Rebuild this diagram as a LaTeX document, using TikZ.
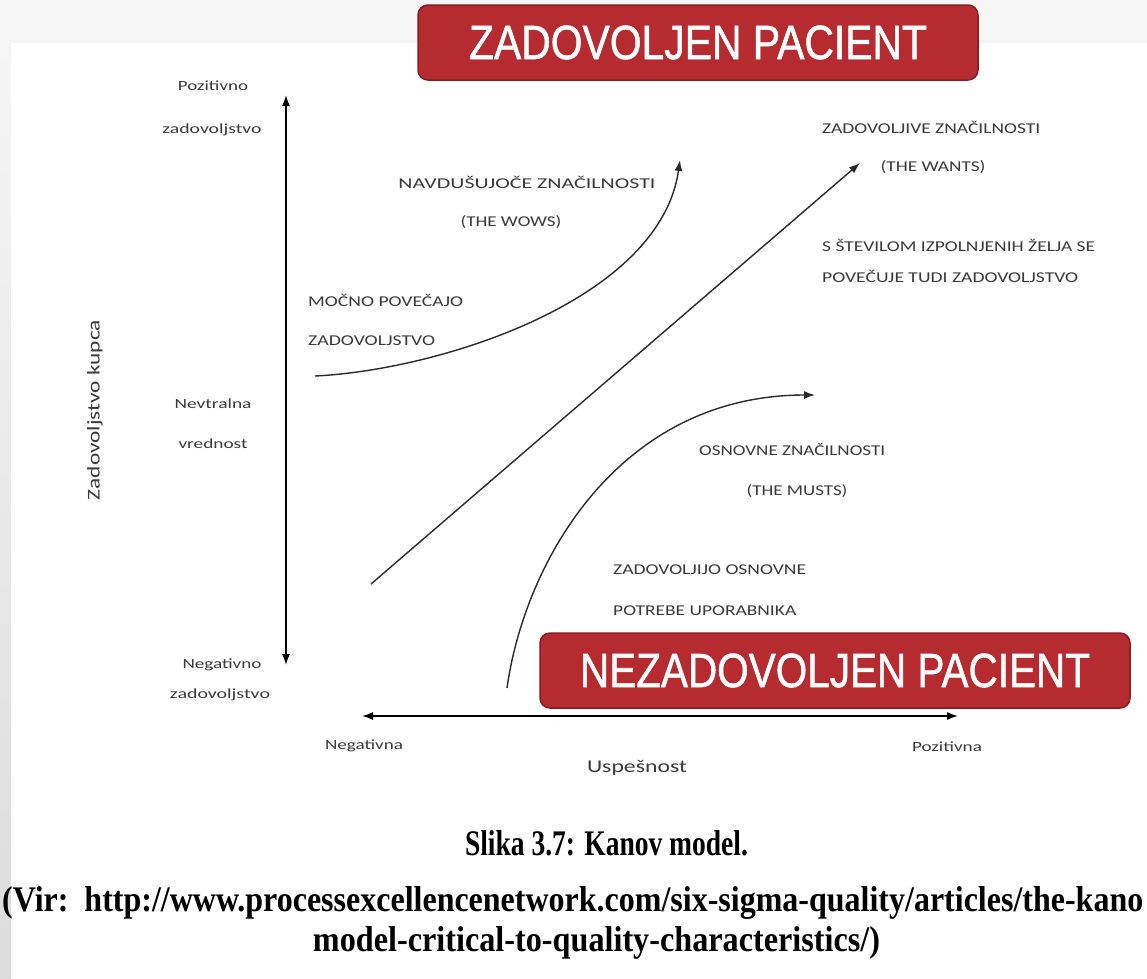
\documentclass[tikz,border=0pt]{standalone}
\usepackage{fontspec}
\usepackage{graphicx}
\setmainfont{Liberation Serif}
\newfontfamily\lblfont{Carlito}
\newfontfamily\boxfont[FakeBold=1.2]{Liberation Sans}
\usetikzlibrary{arrows.meta}
\definecolor{boxred}{HTML}{B52B30}
\definecolor{boxedge}{HTML}{8A1C20}
\definecolor{txtgray}{HTML}{3A3A3A}
\definecolor{bggray}{HTML}{F5F5F5}
\definecolor{stripgray}{HTML}{DCDCDC}
\definecolor{curvegray}{HTML}{2A2A2A}
\newcommand{\fw}[2]{\resizebox{#1}{\height}{#2}}
\tikzset{
  lbl/.style={font=\lblfont\fontsize{14}{16}\selectfont, text=txtgray, inner sep=0pt},
  capstext/.style={font=\lblfont\fontsize{15}{17}\selectfont, text=txtgray, inner sep=0pt},
  redbox/.style={draw=boxedge, line width=1.5pt, fill=boxred, rounded corners=10pt,
    text=white, font=\boxfont\fontsize{48}{50}\selectfont, inner sep=0pt},
  axis/.style={line width=1.5pt, black, {Latex[length=11pt,width=8pt]}-{Latex[length=11pt,width=8pt]}},
  curve/.style={line width=1.4pt, curvegray, -{Latex[length=11pt,width=8pt]}},
  captiontext/.style={font=\bfseries\fontsize{36}{40}\selectfont, inner sep=0pt}
}
\begin{document}
\begin{tikzpicture}[x=1pt,y=-1pt]
\useasboundingbox (0,0) rectangle (1147,978);
% background
\fill[bggray] (0,0) rectangle (1147,43);
\shade[top color=bggray, bottom color=stripgray] (0,43) rectangle (11,978);
\fill[white] (11,43) rectangle (1147,978);

% axes
\coordinate (ytop) at (286,95);
\coordinate (ybot) at (286,665);
\coordinate (xleft) at (362,716);
\coordinate (xright) at (958,716);
\draw[axis] (ytop) -- (ybot);
\draw[axis] (xleft) -- (xright);

% curves
\coordinate (wowsA) at (315,376);
\coordinate (wowsB) at (680,160);
\coordinate (wantsA) at (371,584);
\coordinate (wantsB) at (860,163);
\coordinate (mustsA) at (507,688);
\coordinate (mustsB) at (815,395);
\draw[curve] (wowsA) .. controls (440,370) and (660,300) .. (wowsB);
\draw[curve] (wantsA) -- (wantsB);
\draw[curve] (mustsA) .. controls (525,560) and (620,395) .. (mustsB);

% left labels
\node[lbl] (poz1) at (213,86) {\fw{70pt}{Pozitivno}};
\node[lbl] (zad1) at (212,130) {\fw{99pt}{zadovoljstvo}};
\node[lbl] (nev) at (213,404) {\fw{77pt}{Nevtralna}};
\node[lbl] (vre) at (213,444) {\fw{69pt}{vrednost}};
\node[lbl] (neg1) at (222,665) {\fw{79pt}{Negativno}};
\node[lbl] (zad2) at (220,695) {\fw{100pt}{zadovoljstvo}};
\node[lbl, font=\lblfont\fontsize{18}{20}\selectfont, rotate=90] (ylab) at (95,410) {\fw{180pt}{Zadovoljstvo kupca}};
\node[lbl] (negx) at (364,746) {\fw{78pt}{Negativna}};
\node[lbl] (pozx) at (947,747) {\fw{70pt}{Pozitivna}};
\node[lbl, font=\lblfont\fontsize{18}{20}\selectfont] (usp) at (637,768) {\fw{100pt}{Uspešnost}};

% curve labels
\node[capstext] (wows1) at (527,182) {\fw{257pt}{NAVDUŠUJOČE ZNAČILNOSTI}};
\node[capstext] (wows2) at (511,222) {\fw{101pt}{(THE WOWS)}};
\node[capstext, anchor=west] (wows3) at (308,300) {\fw{155pt}{MOČNO POVEČAJO}};
\node[capstext, anchor=west] (wows4) at (308,341) {\fw{127pt}{ZADOVOLJSTVO}};
\node[capstext, anchor=west] (wants1) at (822,127) {\fw{218pt}{ZADOVOLJIVE ZNAČILNOSTI}};
\node[capstext] (wants2) at (933,167) {\fw{105pt}{(THE WANTS)}};
\node[capstext, anchor=west] (wants3) at (822,245) {\fw{273pt}{S ŠTEVILOM IZPOLNJENIH ŽELJA SE}};
\node[capstext, anchor=west] (wants4) at (822,276) {\fw{256pt}{POVEČUJE TUDI ZADOVOLJSTVO}};
\node[capstext, anchor=west] (musts1) at (699,449) {\fw{186pt}{OSNOVNE ZNAČILNOSTI}};
\node[capstext] (musts2) at (797,491) {\fw{101pt}{(THE MUSTS)}};
\node[capstext, anchor=west] (musts3) at (613,570) {\fw{193pt}{ZADOVOLJIJO OSNOVNE}};
\node[capstext, anchor=west] (musts4) at (613,611) {\fw{183pt}{POTREBE UPORABNIKA}};

% red boxes
\node[redbox, minimum width=560pt, minimum height=75pt] (happy) at (698,42.5) {\fw{458pt}{ZADOVOLJEN PACIENT}};
\node[redbox, minimum width=590pt, minimum height=75pt] (unhappy) at (835,670.5) {\fw{510pt}{NEZADOVOLJEN PACIENT}};

% caption
\node[captiontext] (caption) at (606.5,843) {\fw{283pt}{Slika 3.7: Kanov model.}};
\node[captiontext, anchor=west] (src1) at (2,903) {\fw{1141pt}{(Vir:\ \ http://www.processexcellencenetwork.com/six-sigma-quality/articles/the-kano}};
\node[captiontext] (src2) at (596.5,943) {\fw{567pt}{model-critical-to-quality-characteristics/)}};
\end{tikzpicture}
\end{document}
